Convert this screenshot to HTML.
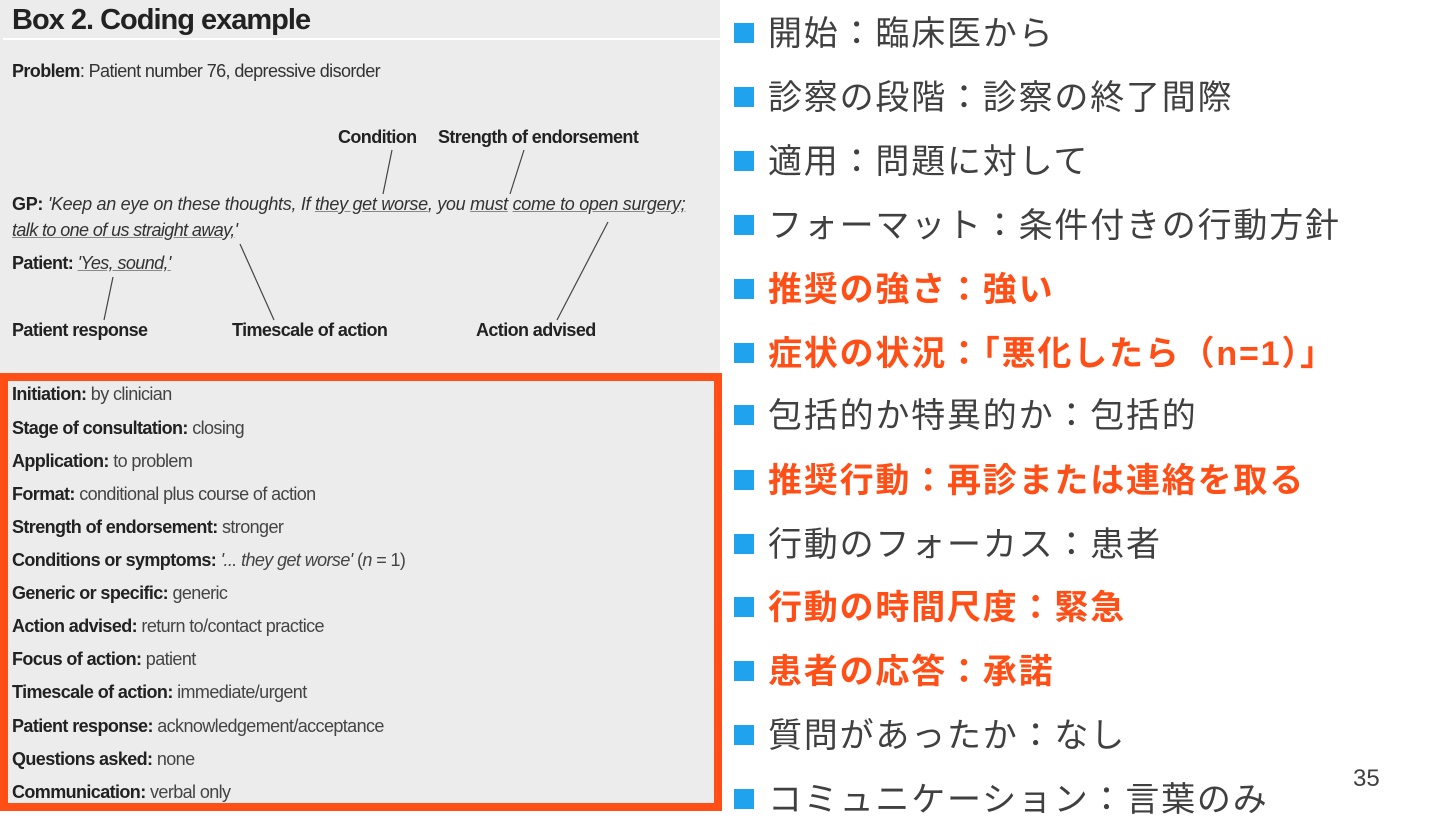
<!DOCTYPE html>
<html><head><meta charset="utf-8"><style>
body{margin:0;width:1440px;height:810px;background:#fff;position:relative;overflow:hidden;font-family:"Liberation Sans Narrow","Liberation Sans",sans-serif;}
#left{position:absolute;left:0;top:0;width:720px;height:810px;background:#ececec;}
.t{position:absolute;white-space:nowrap;color:#333;letter-spacing:-0.6px;}
.b{font-weight:bold;color:#222;}
.i{font-style:italic;}
.u{text-decoration:underline;text-decoration-color:#888;}
#box{position:absolute;left:0;top:373px;width:706px;height:422px;border:8px solid #ff4f17;}
.row{position:absolute;left:12px;font-size:18px;white-space:nowrap;color:#444;letter-spacing:-0.6px;}
.row b{color:#222;}
.jp{position:absolute;left:768px;font-family:"Liberation Sans","Noto Sans CJK JP",sans-serif;font-size:34px;letter-spacing:1.8px;color:#404040;white-space:nowrap;line-height:40px;}
.jp.r{color:#ff4f17;font-weight:bold;}
.sq{position:absolute;left:734px;width:20px;height:20px;background:#1fa3ef;}
</style></head><body>
<div id="left">
<div class="t b" style="left:12px;top:4px;font-size:29px;letter-spacing:-1px;">Box 2. Coding example</div>
<div style="position:absolute;left:3px;top:38px;width:717px;height:2px;background:#fff;"></div>
<div class="t" style="left:12px;top:61px;font-size:18px;"><b class="b">Problem</b>: Patient number 76, depressive disorder</div>
<div class="t b" style="left:338px;top:127px;font-size:18px;">Condition</div>
<div class="t b" style="left:438px;top:127px;font-size:18px;">Strength of endorsement</div>
<div class="t" style="left:12px;top:194px;font-size:18px;letter-spacing:-0.3px;"><b class="b">GP: </b><span class="i"> 'Keep an eye on these thoughts, If <span class="u">they get worse</span>, you <span class="u">must</span> <span class="u">come to open surgery;</span></span></div>
<div class="t i" style="left:12px;top:220px;font-size:18px;"><span class="u">talk to one of us straight away,</span>'</div>
<div class="t" style="left:12px;top:253px;font-size:18px;"><b class="b">Patient: </b><span class="i u">'Yes, sound,'</span></div>
<div class="t b" style="left:12px;top:320px;font-size:18px;">Patient response</div>
<div class="t b" style="left:232px;top:320px;font-size:18px;">Timescale of action</div>
<div class="t b" style="left:476px;top:320px;font-size:18px;">Action advised</div>
<svg style="position:absolute;left:0;top:0" width="720" height="380"><g stroke="#444" stroke-width="1.2">
<line x1="392" y1="150" x2="383" y2="194"/><line x1="524" y1="150" x2="510" y2="194"/>
<line x1="608" y1="222" x2="557" y2="320"/><line x1="240" y1="244" x2="274" y2="320"/>
<line x1="113" y1="277" x2="104" y2="320"/></g></svg>
<div id="box"></div>
<div class="row" style="top:384px"><b>Initiation:</b> by clinician</div>
<div class="row" style="top:418px"><b>Stage of consultation:</b> closing</div>
<div class="row" style="top:451px"><b>Application:</b> to problem</div>
<div class="row" style="top:484px"><b>Format:</b> conditional plus course of action</div>
<div class="row" style="top:517px"><b>Strength of endorsement:</b> stronger</div>
<div class="row" style="top:550px"><b>Conditions or symptoms:</b> <i>'... they get worse'</i> (<i>n</i> = 1)</div>
<div class="row" style="top:583px"><b>Generic or specific:</b> generic</div>
<div class="row" style="top:616px"><b>Action advised:</b> return to/contact practice</div>
<div class="row" style="top:649px"><b>Focus of action:</b> patient</div>
<div class="row" style="top:682px"><b>Timescale of action:</b> immediate/urgent</div>
<div class="row" style="top:716px"><b>Patient response:</b> acknowledgement/acceptance</div>
<div class="row" style="top:749px"><b>Questions asked:</b> none</div>
<div class="row" style="top:782px"><b>Communication:</b> verbal only</div>
</div>
<div class="sq" style="top:23px"></div><div class="jp" style="top:14px">開始：臨床医から</div>
<div class="sq" style="top:87px"></div><div class="jp" style="top:78px">診察の段階：診察の終了間際</div>
<div class="sq" style="top:151px"></div><div class="jp" style="top:142px">適用：問題に対して</div>
<div class="sq" style="top:215px"></div><div class="jp" style="top:206px">フォーマット：条件付きの行動方針</div>
<div class="sq" style="top:279px"></div><div class="jp r" style="top:270px">推奨の強さ：強い</div>
<div class="sq" style="top:343px"></div><div class="jp r" style="top:334px">症状の状況：「悪化したら（n=1）」</div>
<div class="sq" style="top:405px"></div><div class="jp" style="top:396px">包括的か特異的か：包括的</div>
<div class="sq" style="top:470px"></div><div class="jp r" style="top:461px">推奨行動：再診または連絡を取る</div>
<div class="sq" style="top:534px"></div><div class="jp" style="top:525px">行動のフォーカス：患者</div>
<div class="sq" style="top:597px"></div><div class="jp r" style="top:588px">行動の時間尺度：緊急</div>
<div class="sq" style="top:661px"></div><div class="jp r" style="top:652px">患者の応答：承諾</div>
<div class="sq" style="top:725px"></div><div class="jp" style="top:716px">質問があったか：なし</div>
<div class="sq" style="top:789px"></div><div class="jp" style="top:780px">コミュニケーション：言葉のみ</div>
<div style="position:absolute;left:1353px;top:765px;font-family:'Liberation Sans',sans-serif;font-size:24px;color:#404040;">35</div>
</body></html>
